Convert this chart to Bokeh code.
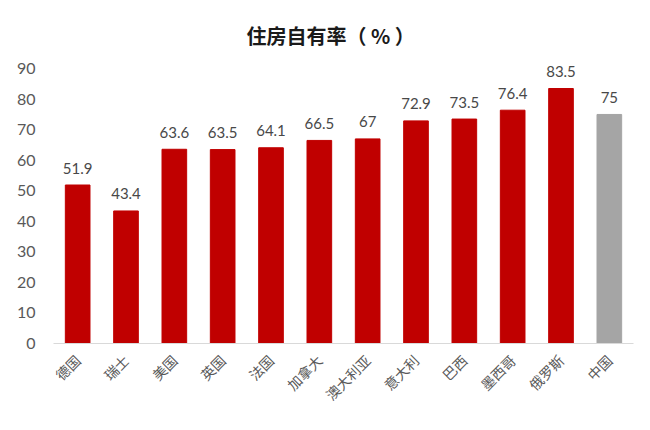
import math
from bokeh.plotting import figure
from bokeh.models import ColumnDataSource, Range1d, FixedTicker
from bokeh.core.properties import value
from bokeh.embed import file_html
from bokeh.resources import INLINE

countries = ["德国", "瑞士", "美国", "英国", "法国", "加拿大", "澳大利亚", "意大利", "巴西", "墨西哥", "俄罗斯", "中国"]
rates = [51.9, 43.4, 63.6, 63.5, 64.1, 66.5, 67, 72.9, 73.5, 76.4, 83.5, 75]
bar_colors = ["#C00000"] * 11 + ["#A5A5A5"]
y_ticks = [0, 10, 20, 30, 40, 50, 60, 70, 80, 90]
labels = [("%g" % v) for v in rates]

src = ColumnDataSource(dict(x=countries, top=rates, color=bar_colors, label=labels))

p = figure(x_range=countries, y_range=Range1d(0, 93), width=634, height=414,
           output_backend="svg", toolbar_location=None,
           min_border_left=53, min_border_right=1, min_border_top=59, min_border_bottom=40)
p.title.text = "住房自有率（ % ）"
p.title.align = "left"
p.title.offset = 193
p.title.text_font = "Noto Sans CJK SC"
p.title.text_font_size = "20px"
p.title.text_font_style = "bold"
p.title.text_color = "#1a1a1a"
p.title.standoff = 19

p.vbar(x="x", top="top", width=0.51, color="color", source=src)
p.text(x="x", y="top", text="label", source=src, text_align="center",
       text_baseline="alphabetic", y_offset=-17, text_font=value("Lato"),
       text_font_size="15px", text_color="#484848")

p.x_range.range_padding = 0
p.xgrid.visible = False
p.ygrid.visible = False
p.outline_line_color = None

p.yaxis.ticker = FixedTicker(ticks=y_ticks)
p.yaxis.axis_line_color = None
p.yaxis.major_tick_line_color = None
p.yaxis.minor_tick_line_color = None
p.yaxis.major_tick_out = 0
p.yaxis.major_tick_in = 0
p.yaxis.major_label_text_font = "Lato"
p.yaxis.major_label_text_font_size = "16px"
p.yaxis.major_label_text_color = "#595959"
p.yaxis.major_label_standoff = 18

p.xaxis.axis_line_color = "#D9D9D9"
p.xaxis.axis_line_width = 1
p.xaxis.major_tick_line_color = None
p.xaxis.minor_tick_line_color = None
p.xaxis.major_tick_out = 0
p.xaxis.major_tick_in = 0
p.xaxis.major_label_orientation = math.pi / 4
p.xaxis.major_label_text_font = "Noto Sans CJK SC"
p.xaxis.major_label_text_font_size = "14px"
p.xaxis.major_label_text_color = "#595959"
p.xaxis.major_label_standoff = 14

open("out.html", "w").write(file_html(p, INLINE))
